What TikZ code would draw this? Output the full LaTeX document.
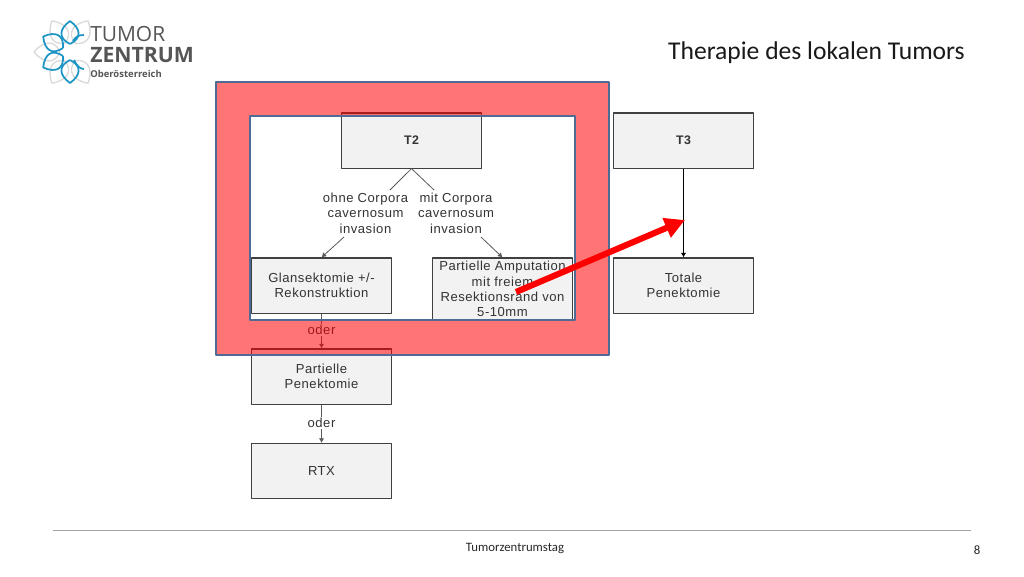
\documentclass[tikz,border=0pt]{standalone}
\usepackage{fontspec}
\setmainfont{Carlito}
\newfontfamily\boxfont[LetterSpace=4]{Liberation Sans}
\newfontfamily\logofont{Open Sans}
\usetikzlibrary{arrows.meta}
\definecolor{boxfill}{HTML}{F2F2F2}
\definecolor{framered}{HTML}{FF0000}
\definecolor{frameblue}{HTML}{4F6A95}
\definecolor{logoblue}{HTML}{1C94C4}
\definecolor{logogray}{HTML}{D9D9D9}
\definecolor{logotext}{HTML}{555555}
\tikzset{
	flowbox/.style={draw=black!75, fill=boxfill, line width=0.8pt, minimum width=105.5pt, inner sep=0pt, align=center, font=\boxfont\fontsize{9.8}{11.5}\selectfont, text=black!80},
	flowlabel/.style={inner sep=1pt, align=center, font=\boxfont\fontsize{9.8}{11.6}\selectfont, text=black!80},
	flowline/.style={draw=black!65, line width=0.6pt},
	flowarrow/.style={flowline, -{Latex[length=3.5pt,width=4pt]}}
}
\begin{document}
\begin{tikzpicture}[x=0.75pt, y=-0.75pt, line join = round]
	\useasboundingbox (0,0) rectangle (1024,576);
	% logo
	\foreach \a in {30,90,150,210,330} {\draw[logogray, line width=1pt, rotate around={\a:(70,52)}] (70,42) .. controls (58,37) and (58,26) .. (70,16) .. controls (82,26) and (82,37) .. (70,42);}
	\foreach \a in {0,60,120,180} {\draw[logoblue, line width=1.3pt, rotate around={\a:(70,52)}] (70,44) .. controls (58,38) and (59,29) .. (70,21) .. controls (81,29) and (82,38) .. (70,44);}
	\draw[logoblue, line width=1.3pt] (73,41) .. controls (76,36) and (79,35) .. (84,35) (74,60) .. controls (77,66) and (80,69) .. (84,69);
	\node[anchor=west, inner sep=0pt, text=logotext, font=\logofont\fontsize{15.7}{16}\selectfont] (logoa) at (90,34) {TUMOR};
	\node[anchor=west, inner sep=0pt, text=logotext, font=\logofont\bfseries\fontsize{15.9}{16}\selectfont] (logob) at (90,55) {ZENTRUM};
	\node[anchor=west, inner sep=0pt, text=logotext, font=\logofont\bfseries\fontsize{7.1}{7}\selectfont] (logoc) at (90,74) {Oberösterreich};
	% boxes
	\node[flowbox, minimum height=41.3pt, font=\boxfont\bfseries\fontsize{9.3}{11.6}\selectfont] (t2) at (411.5,140.5) {T2};
	\node[flowbox, minimum height=41.3pt, font=\boxfont\bfseries\fontsize{9.3}{11.6}\selectfont] (t3) at (683.5,140.5) {T3};
	\node[flowbox, minimum height=41.3pt] (glans) at (321.5,285.5) {Glansektomie +/-\\Rekonstruktion};
	\node[flowbox, minimum height=46.5pt] (amp) at (502.5,289) {Partielle Amputation\\mit freiem\\Resektionsrand von\\5-10mm};
	\node[flowbox, minimum height=41.3pt] (total) at (683.5,285.5) {Totale\\Penektomie};
	\node[flowbox, minimum height=41.3pt] (pen) at (321.5,376.5) {Partielle\\Penektomie};
	\node[flowbox, minimum height=41.3pt] (rtx) at (321.5,471) {RTX};
	% labels
	\node[flowlabel] (ohne) at (365.5,213) {ohne Corpora\\cavernosum\\invasion};
	\node[flowlabel] (mit) at (456,213) {mit Corpora\\cavernosum\\invasion};
	\node[flowlabel] (odera) at (321.5,330) {oder};
	\node[flowlabel] (oderb) at (321.5,423) {oder};
	% connectors
	\coordinate (ohnetop) at (390,190);
	\coordinate (mittop) at (434,190);
	\coordinate (ohnelow) at (344,237);
	\coordinate (mitlow) at (481,237);
	\draw[flowline] (t2.south) -- (ohnetop);
	\draw[flowline] (t2.south) -- (mittop);
	\draw[flowarrow] (ohnelow) -- (glans.north);
	\draw[flowarrow] (mitlow) -- (amp.north);
	\draw[flowline] (glans) -- (odera);
	\draw[flowarrow] (odera) -- (pen);
	\draw[flowline] (pen) -- (oderb);
	\draw[flowarrow] (oderb) -- (rtx);
	\draw[flowarrow, draw=black] (t3) -- (total);
	% red frame on top
	\fill[framered, fill opacity=0.54, even odd rule] (216,82) rectangle (609,355) (250,116) rectangle (575,320);
	\draw[frameblue, line width=1.4pt] (216,82) rectangle (609,355) (250,116) rectangle (575,320);
	% red arrow
	\coordinate (redfrom) at (516,292);
	\coordinate (redto) at (685,220);
	\draw[draw=red, line width=4.6pt, -{Triangle[length=15pt,width=15pt]}] (redfrom) -- (redto);
	% footer
	\coordinate (rulea) at (53,530);
	\coordinate (ruleb) at (971,530);
	\draw[black!35, line width=0.7pt] (rulea) -- (ruleb);
	\node[inner sep=0pt, text=black!85, font=\fontsize{9.6}{11}\selectfont] (foot) at (515,548) {Tumorzentrumstag};
	\node[inner sep=0pt, text=black!85, font=\fontsize{9.6}{11}\selectfont] (page) at (977,550) {8};
	\node[anchor=east, inner sep=0pt, text=black!90, font=\fontsize{19.2}{22}\selectfont] (title) at (965,53) {Therapie des lokalen Tumors};
\end{tikzpicture}
\end{document}
